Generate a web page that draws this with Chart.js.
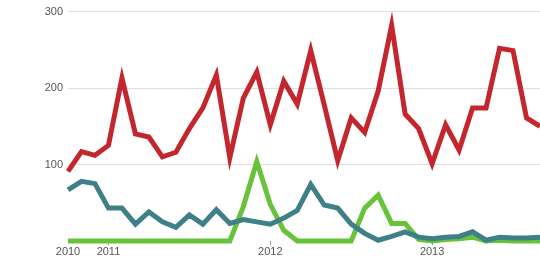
<!DOCTYPE html>
<html>
<head>
<meta charset="utf-8">
<script src="https://cdn.jsdelivr.net/npm/chart.js@4.4.1/dist/chart.umd.min.js"></script>
<style>
  html, body { margin: 0; padding: 0; background: #fff; overflow: hidden; }
  #wrap { width: 540px; height: 260px; }
</style>
</head>
<body>
<div id="wrap"><canvas id="trend" width="540" height="260"></canvas></div>
<script>
// months Oct 2010 .. Sep 2013
let months = [];
for (let i = 0; i < 36; i++) {
    let m = (9 + i) % 12;
    let y = 2010 + Math.floor((9 + i) / 12);
    months.push(y + '-' + (m + 1));
}

let redValues = [91, 117, 112, 125, 213, 140, 136, 110, 116, 147, 174, 217,
                 109, 187, 221, 152, 209, 179, 249, 178, 105, 161, 142, 196,
                 282, 166, 147, 101, 152, 119, 174, 174, 252, 249, 161, 150];
let tealValues = [67, 78, 75, 43, 43, 22, 38, 25, 18, 34, 22, 41,
                  23, 28, 25, 22, 30, 40, 74, 47, 43, 22, 10, 1,
                  6, 12, 5, 3, 5, 6, 12, 1, 5, 4, 4, 5];
let greenValues = [0, 0, 0, 0, 0, 0, 0, 0, 0, 0, 0, 0,
                   0, 45, 104, 48, 14, 0, 0, 0, 0, 0, 43, 60,
                   23, 23, 2, 0, 2, 3, 5, 0, 1, 0, 0, 0];
let yTicks = [100, 200, 300];

function yearLabel(index) {
    let parts = months[index].split('-');
    if (index === 0 || parts[1] === '1') return parts[0];
    return '';
}

let ctx = document.getElementById('trend').getContext('2d');

let trendChart = new Chart(ctx, {
    type: 'line',
    data: {
        labels: months,
        datasets: [{
            label: 'red',
            data: redValues,
            borderColor: '#c3272d',
            backgroundColor: '#c3272d'
        }, {
            label: 'teal',
            data: tealValues,
            borderColor: '#3e7f88',
            backgroundColor: '#3e7f88'
        }, {
            label: 'green',
            data: greenValues,
            borderColor: '#68c33a',
            backgroundColor: '#68c33a'
        }]
    },
    options: {
        responsive: false,
        animation: false,
        layout: { padding: { top: 10, right: 0, bottom: 0, left: 0 } },
        elements: {
            line: { borderWidth: 5, tension: 0, borderJoinStyle: 'miter', borderCapStyle: 'butt' },
            point: { radius: 0 }
        },
        datasets: { line: { clip: false } },
        plugins: { legend: { display: false }, tooltip: { enabled: false } },
        scales: {
            x: {
                offset: false,
                border: { display: false },
                grid: {
                    drawOnChartArea: false,
                    drawTicks: true,
                    tickLength: 4,
                    color: function(c) {
                        return (c.index > 0 && yearLabel(c.index) !== '') ? '#999' : 'rgba(0,0,0,0)';
                    }
                },
                ticks: {
                    autoSkip: false,
                    maxRotation: 0,
                    padding: 0,
                    color: '#555',
                    font: { family: 'Liberation Sans', size: 11 },
                    callback: function(value, index) {
                        return yearLabel(index);
                    }
                },
                afterFit: function(scale) { scale.height = 19; }
            },
            y: {
                min: 0,
                max: 300,
                border: { display: false },
                grid: {
                    drawTicks: false,
                    color: function(c) {
                        return c.tick.value === 0 ? 'rgba(0,0,0,0)' : '#dedede';
                    },
                    lineWidth: 1
                },
                ticks: {
                    stepSize: 100,
                    padding: 5,
                    color: '#555',
                    font: { family: 'Liberation Sans', size: 11 },
                    callback: function(value) {
                        return yTicks.indexOf(value) >= 0 ? value : '';
                    }
                },
                afterFit: function(scale) { scale.width = 68; }
            }
        }
    }
});
</script>
</body>
</html>
